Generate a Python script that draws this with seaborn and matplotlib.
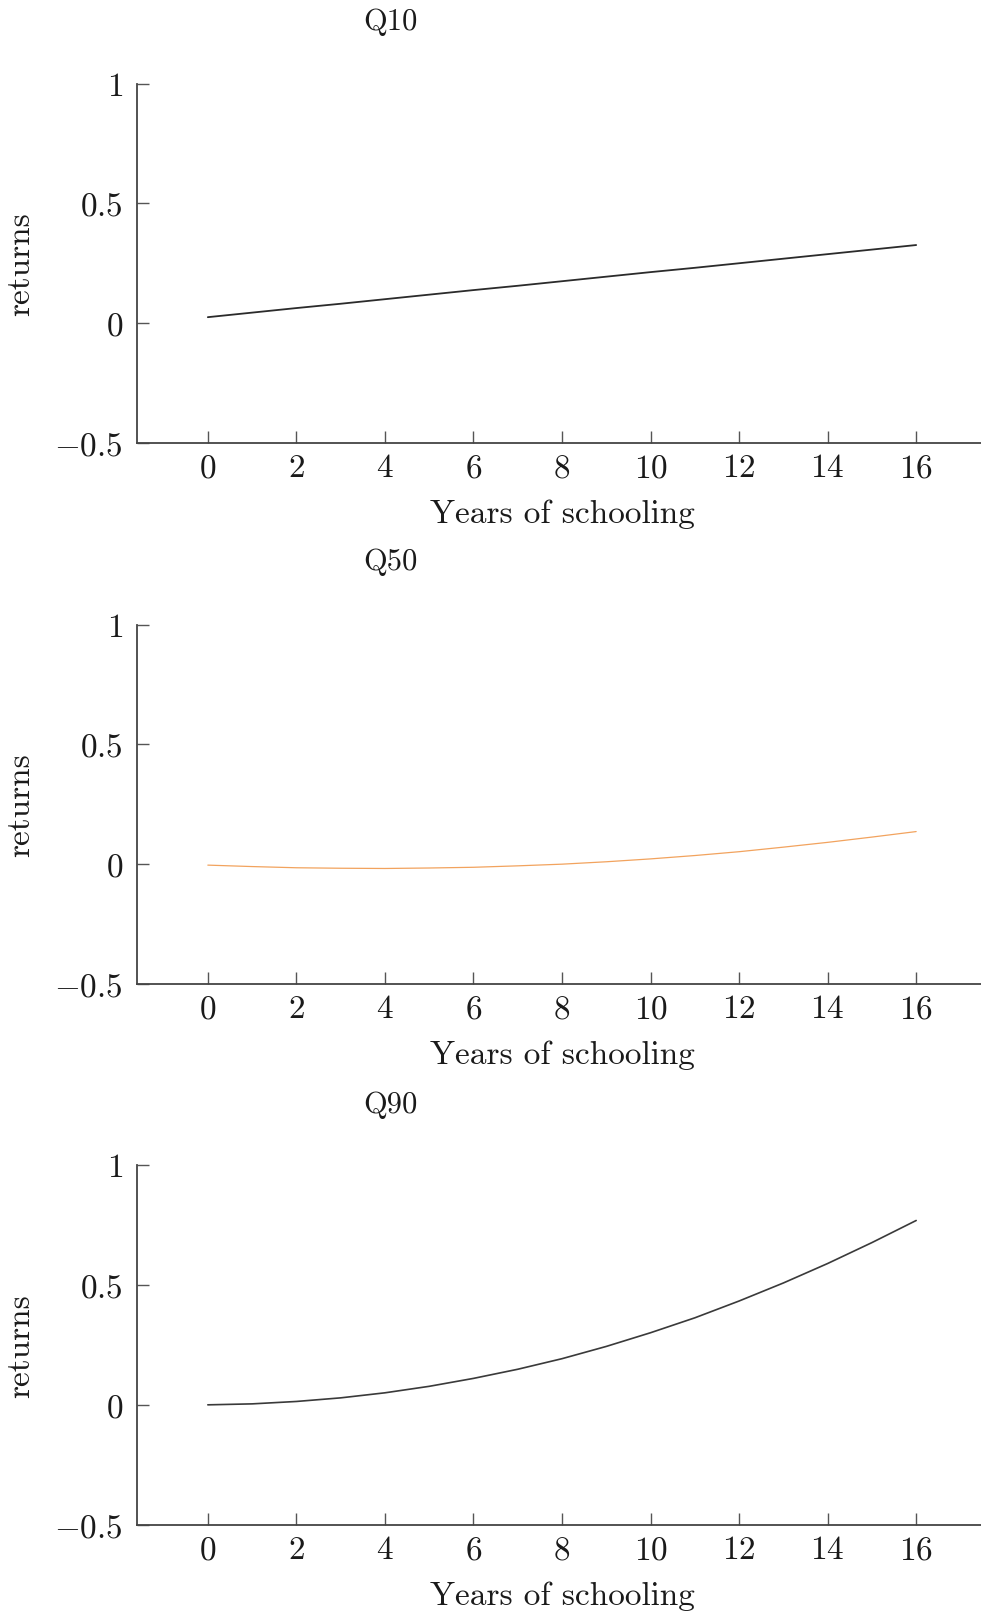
import numpy as np
import pandas as pd
import matplotlib
matplotlib.use('Agg')
import matplotlib.pyplot as plt
import seaborn as sns

# ---- datos ----
years = list(range(0, 17))
q10_returns = [0.025, 0.044, 0.063, 0.081, 0.100, 0.119, 0.138, 0.156, 0.175,
               0.194, 0.213, 0.231, 0.250, 0.269, 0.288, 0.307, 0.326]
q50_returns = [-0.004, -0.010, -0.015, -0.017, -0.018, -0.016, -0.013, -0.007, 0.000,
               0.010, 0.022, 0.036, 0.052, 0.071, 0.091, 0.113, 0.136]
q90_returns = [0.000, 0.004, 0.014, 0.029, 0.050, 0.077, 0.110, 0.148, 0.192,
               0.243, 0.300, 0.362, 0.432, 0.507, 0.588, 0.675, 0.767]

panel_titles = ['Q10', 'Q50', 'Q90']
line_colors = ['#2b2b2b', '#f2a35e', '#3a3a3a']
line_widths = [1.3, 0.9, 1.2]

x_ticks = [0, 2, 4, 6, 8, 10, 12, 14, 16]
y_ticks = [-0.5, 0, 0.5, 1]
y_tick_labels = ['$-0.5$', '$0$', '$0.5$', '$1$']

series = [q10_returns, q50_returns, q90_returns]

# ---- estilo ----
sns.set_style('white')
plt.rcParams['font.family'] = ['cmr10', 'DejaVu Serif']
plt.rcParams['mathtext.fontset'] = 'cm'
plt.rcParams['axes.unicode_minus'] = False
FS = 24

W, H = 981, 1615
fig = plt.figure(figsize=(W / 100, H / 100), dpi=100)

# posiciones en pixeles (top, bottom) de cada panel
panel_px = [(84.5, 444), (625.5, 985), (1165.5, 1526)]
title_y_px = [22.7, 562, 1105]
left_px, right_px = 137, 987

for i, (top, bot) in enumerate(panel_px):
    ax = fig.add_axes([left_px / W, 1 - bot / H, (right_px - left_px) / W, (bot - top) / H])
    df = pd.DataFrame({'years': years, 'returns': series[i]})
    sns.lineplot(data=df, x='years', y='returns', ax=ax, color=line_colors[i],
                 linewidth=line_widths[i])
    ax.set_xlim(-1.6, 17.6)
    ax.set_ylim(-0.5, 1)
    ax.set_xticks(x_ticks)
    ax.set_xticklabels([f'${t}$' for t in x_ticks])
    ax.set_yticks(y_ticks)
    ax.set_yticklabels(y_tick_labels)
    for s in ['top', 'right']:
        ax.spines[s].set_visible(False)
    for s in ['left', 'bottom']:
        ax.spines[s].set_color('#444444')
        ax.spines[s].set_linewidth(1.3)
    ax.tick_params(axis='both', direction='in', length=8.5, width=1.0,
                   bottom=True, left=True,
                   color='#555555', labelsize=FS, labelcolor='#1a1a1a')
    ax.tick_params(axis='y', pad=10)
    ax.tick_params(axis='x', pad=7.5)
    ax.set_xlabel('Years of schooling', fontsize=FS, color='#1a1a1a', labelpad=11.5)
    ax.set_ylabel('returns', fontsize=FS, color='#1a1a1a', labelpad=14)
    fig.text(390 / W, 1 - title_y_px[i] / H, panel_titles[i], fontsize=FS - 2,
             ha='center', va='center', color='#1a1a1a')

fig.savefig('out.png', dpi=100)
